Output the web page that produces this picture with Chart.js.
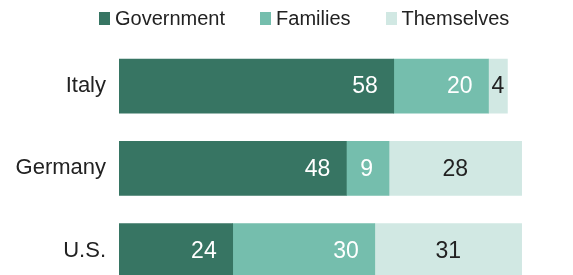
<!DOCTYPE html>
<html lang="en">
<head>
    <meta charset="UTF-8">
    <meta name="viewport" content="width=device-width, initial-scale=1.0">
    <title>Who should pay</title>
    <script src="https://cdn.jsdelivr.net/npm/chart.js"></script>
    <style>
        body {
            margin: 0;
            padding: 0;
            background: #fff;
            overflow: hidden;
            font-family: "Liberation Sans", Arial, sans-serif;
        }
        #wrap {
            position: relative;
            width: 573px;
            height: 318px;
        }
        #legend {
            position: absolute;
            top: 0;
            left: 99px;
            height: 36px;
            display: flex;
            align-items: center;
            font-size: 20px;
            color: #222;
        }
        .item {
            display: flex;
            align-items: center;
            margin-right: 35px;
        }
        .swatch {
            width: 11px;
            height: 13px;
            margin-right: 5px;
        }
        canvas {
            display: block;
        }
    </style>
</head>
<body>
    <div id="wrap">
        <div id="legend"></div>
        <canvas id="payChart" width="573" height="318"></canvas>
    </div>
    <script>
        const countries = ['Italy', 'Germany', 'U.S.'];
        const seriesNames = ['Government', 'Families', 'Themselves'];
        const government = [58, 48, 24];
        const families = [20, 9, 30];
        const themselves = [4, 28, 31];
        const colors = ['#377563', '#75bead', '#d1e8e3'];
        const whiteLabels = [true, true, false];

        // legend
        const legend = document.getElementById('legend');
        seriesNames.forEach((name, i) => {
            const item = document.createElement('div');
            item.className = 'item';
            item.innerHTML = '<span class="swatch" style="background:' + colors[i] + '"></span>' + name;
            legend.appendChild(item);
        });

        const barLabels = {
            id: 'barLabels',
            afterDatasetsDraw(chart) {
                const ctx = chart.ctx;
                ctx.save();
                ctx.font = '23px "Liberation Sans", Arial, sans-serif';
                ctx.textBaseline = 'middle';
                chart.data.datasets.forEach((ds, i) => {
                    chart.getDatasetMeta(i).data.forEach((bar, j) => {
                        const v = ds.data[j];
                        if (whiteLabels[i]) {
                            ctx.fillStyle = '#fff';
                            ctx.textAlign = 'right';
                            ctx.fillText(v, bar.x - 16, bar.y + 1);
                        } else {
                            ctx.fillStyle = '#222';
                            ctx.textAlign = 'center';
                            ctx.fillText(v, (bar.base + bar.x) / 2, bar.y + 1);
                        }
                    });
                });
                ctx.restore();
            }
        };

        const ctx = document.getElementById('payChart').getContext('2d');
        new Chart(ctx, {
            type: 'bar',
            data: {
                labels: countries,
                datasets: [government, families, themselves].map((d, i) => ({
                    label: seriesNames[i],
                    data: d,
                    backgroundColor: colors[i],
                    barThickness: 54,
                    borderWidth: 0
                }))
            },
            options: {
                indexAxis: 'y',
                responsive: false,
                animation: false,
                devicePixelRatio: 1,
                layout: { padding: { top: 45, right: 4, bottom: 9, left: 0 } },
                plugins: {
                    legend: { display: false },
                    tooltip: { enabled: false }
                },
                scales: {
                    x: {
                        stacked: true,
                        display: false,
                        min: 0,
                        max: 95
                    },
                    y: {
                        stacked: true,
                        grid: { display: false, drawTicks: false },
                        border: { display: false },
                        afterFit: (s) => { s.width = 119; },
                        ticks: {
                            padding: 13,
                            color: '#222',
                            font: { size: 22, family: '"Liberation Sans", Arial, sans-serif' }
                        }
                    }
                }
            },
            plugins: [barLabels]
        });
    </script>
</body>
</html>
